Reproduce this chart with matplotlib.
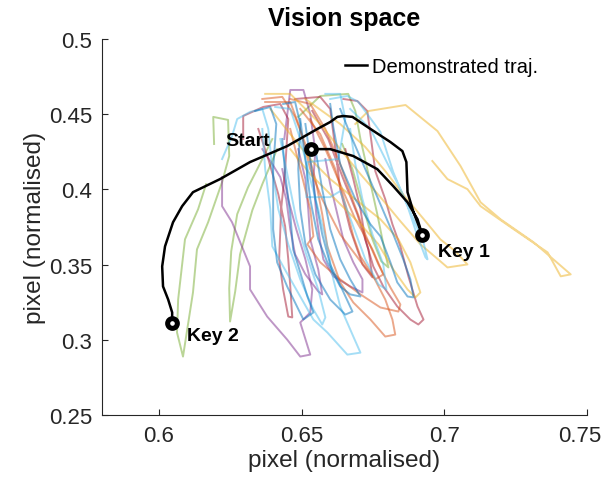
import numpy as np
import matplotlib
matplotlib.use("Agg")
import matplotlib.pyplot as plt
import matplotlib.transforms as mtransforms

plt.rcParams['font.family'] = ['Liberation Sans', 'DejaVu Sans']

# demonstrated trajectory: start -> key 1 -> key 2
demo_x = [0.6534, 0.6600, 0.6681, 0.6765, 0.6821, 0.6871, 0.6906, 0.6923,
          0.6892, 0.6871, 0.6867, 0.6853, 0.6811, 0.6741, 0.6678, 0.6646,
          0.6625, 0.6600, 0.6555, 0.6449, 0.6319, 0.6214, 0.6119, 0.6081,
          0.6049, 0.6021, 0.6011, 0.6014, 0.6032, 0.6046, 0.6046]
demo_y = [0.4267, 0.4267, 0.4221, 0.4134, 0.4021, 0.3914, 0.3801, 0.3695,
          0.3848, 0.3981, 0.4181, 0.4254, 0.4314, 0.4401, 0.4481, 0.4487,
          0.4481, 0.4447, 0.4401, 0.4287, 0.4181, 0.4068, 0.3981, 0.3888,
          0.3781, 0.3621, 0.3488, 0.3355, 0.3268, 0.3182, 0.3109]

key_names = ['Start', 'Key 1', 'Key 2']
key_x = [0.6534, 0.6923, 0.6046]
key_y = [0.4267, 0.3695, 0.3109]

# reproduced trajectories (x list, y list, colour index)
trajs = [
    ([0.6193, 0.6190, 0.6242, 0.6246, 0.6221, 0.6172, 0.6133, 0.6119, 0.6084, 0.6063, 0.6067, 0.6091, 0.6137, 0.6165],
     [0.4301, 0.4481, 0.4461, 0.4221, 0.4048, 0.3781, 0.3601, 0.3315, 0.2889, 0.3049, 0.3268, 0.3668, 0.3868, 0.4034], 4),
    ([0.6397, 0.6348, 0.6312, 0.6274, 0.6253, 0.6246, 0.6249, 0.6267, 0.6284, 0.6327, 0.6362, 0.6414],
     [0.4334, 0.4148, 0.4014, 0.3835, 0.3588, 0.3342, 0.3122, 0.3322, 0.3568, 0.3861, 0.4034, 0.4267], 4),
    ([0.6488, 0.6565, 0.6663, 0.6688, 0.6706, 0.6734, 0.6765, 0.6790, 0.6804, 0.6779, 0.6748, 0.6713, 0.6678, 0.6642],
     [0.4481, 0.4620, 0.4634, 0.4520, 0.4334, 0.4101, 0.3835, 0.3601, 0.3481, 0.3522, 0.3668, 0.3901, 0.4134, 0.4301], 4),
    ([0.6221, 0.6221, 0.6256, 0.6319, 0.6319, 0.6379, 0.6449, 0.6495, 0.6530, 0.6495, 0.6530, 0.6537, 0.6513, 0.6481, 0.6453, 0.6432],
     [0.4081, 0.3888, 0.3781, 0.3488, 0.3335, 0.3155, 0.3002, 0.2889, 0.2902, 0.3115, 0.3182, 0.3335, 0.3535, 0.3735, 0.3934, 0.4134], 3),
    ([0.6439, 0.6460, 0.6506, 0.6530, 0.6548, 0.6541, 0.6551, 0.6565, 0.6576, 0.6611, 0.6670, 0.6713, 0.6713, 0.6681, 0.6646, 0.6625, 0.6600, 0.6583],
     [0.4334, 0.4660, 0.4660, 0.4500, 0.4254, 0.4068, 0.3835, 0.3648, 0.3535, 0.3422, 0.3355, 0.3315, 0.3402, 0.3515, 0.3668, 0.3835, 0.4034, 0.4201], 3),
    ([0.6362, 0.6397, 0.6425, 0.6446, 0.6460, 0.6477, 0.6513, 0.6558, 0.6572, 0.6558, 0.6530, 0.6523, 0.6513, 0.6488],
     [0.4267, 0.4168, 0.4081, 0.3934, 0.3735, 0.3568, 0.3435, 0.3322, 0.3302, 0.3468, 0.3668, 0.3868, 0.4068, 0.4267], 3),
    ([0.6295, 0.6295, 0.6365, 0.6425, 0.6453, 0.6442, 0.6428, 0.6421, 0.6435, 0.6453, 0.6467, 0.6460, 0.6453, 0.6442, 0.6418, 0.6383, 0.6348],
     [0.4334, 0.4487, 0.4547, 0.4567, 0.4467, 0.4134, 0.3868, 0.3535, 0.3335, 0.3155, 0.3149, 0.3355, 0.3535, 0.3755, 0.3968, 0.4201, 0.4401], 6),
    ([0.6646, 0.6695, 0.6730, 0.6741, 0.6758, 0.6793, 0.6818, 0.6846, 0.6874, 0.6906, 0.6927, 0.6909, 0.6881, 0.6835, 0.6786, 0.6751, 0.6723, 0.6706, 0.6681, 0.6653],
     [0.4600, 0.4587, 0.4520, 0.4367, 0.4121, 0.3934, 0.3768, 0.3621, 0.3422, 0.3222, 0.3135, 0.3102, 0.3135, 0.3222, 0.3355, 0.3488, 0.3668, 0.3868, 0.4068, 0.4267], 6),
    ([0.6477, 0.6565, 0.6600, 0.6618, 0.6635, 0.6670, 0.6713, 0.6748, 0.6734, 0.6695, 0.6646, 0.6593, 0.6537],
     [0.4600, 0.4614, 0.4534, 0.4267, 0.4001, 0.3735, 0.3501, 0.3415, 0.3601, 0.3835, 0.4068, 0.4334, 0.4521], 6),
    ([0.6362, 0.6432, 0.6477, 0.6513, 0.6548, 0.6572, 0.6590, 0.6635, 0.6681, 0.6741, 0.6793, 0.6828, 0.6818, 0.6793, 0.6751, 0.6706, 0.6681, 0.6653, 0.6618, 0.6565, 0.6495],
     [0.4600, 0.4614, 0.4481, 0.4301, 0.4068, 0.3835, 0.3621, 0.3382, 0.3248, 0.3135, 0.3022, 0.3035, 0.3135, 0.3268, 0.3422, 0.3555, 0.3688, 0.3901, 0.4134, 0.4367, 0.4534], 1),
    ([0.6460, 0.6495, 0.6530, 0.6541, 0.6520, 0.6565, 0.6635, 0.6706, 0.6776, 0.6839, 0.6846, 0.6811, 0.6769, 0.6723, 0.6678, 0.6635, 0.6583, 0.6530, 0.6460],
     [0.4401, 0.4134, 0.3868, 0.3688, 0.3635, 0.3515, 0.3402, 0.3302, 0.3215, 0.3188, 0.3235, 0.3348, 0.3501, 0.3701, 0.3934, 0.4168, 0.4401, 0.4567, 0.4600], 1),
    ([0.6372, 0.6460, 0.6495, 0.6530, 0.6572, 0.6635, 0.6706, 0.6758, 0.6786, 0.6748, 0.6688, 0.6635, 0.6583, 0.6530],
     [0.4580, 0.4580, 0.4401, 0.4134, 0.3934, 0.3701, 0.3522, 0.3402, 0.3435, 0.3601, 0.3801, 0.4034, 0.4267, 0.4467], 1),
    ([0.6688, 0.6734, 0.6864, 0.6976, 0.7057, 0.7127, 0.7197, 0.7313, 0.7443, 0.7408, 0.7362, 0.7243, 0.7127, 0.7081, 0.7011, 0.6958],
     [0.4434, 0.4520, 0.4560, 0.4387, 0.4154, 0.3914, 0.3801, 0.3648, 0.3435, 0.3422, 0.3581, 0.3735, 0.3888, 0.4001, 0.4068, 0.4188], 2),
    ([0.6372, 0.6460, 0.6513, 0.6565, 0.6635, 0.6706, 0.6776, 0.6846, 0.6916, 0.6986, 0.7011, 0.7081, 0.7039, 0.6986, 0.6934, 0.6863, 0.6793, 0.6723, 0.6635, 0.6513],
     [0.4634, 0.4634, 0.4534, 0.4434, 0.4267, 0.4101, 0.3948, 0.3788, 0.3635, 0.3522, 0.3481, 0.3501, 0.3588, 0.3668, 0.3788, 0.3948, 0.4121, 0.4281, 0.4434, 0.4600], 2),
    ([0.6390, 0.6460, 0.6530, 0.6600, 0.6688, 0.6776, 0.6839, 0.6881, 0.6916, 0.6899, 0.6871, 0.6821, 0.6769, 0.6706, 0.6618, 0.6530, 0.6460],
     [0.4534, 0.4367, 0.4201, 0.4068, 0.3934, 0.3801, 0.3668, 0.3515, 0.3315, 0.3282, 0.3335, 0.3468, 0.3635, 0.3768, 0.3934, 0.4101, 0.4267], 2),
    ([0.6362, 0.6372, 0.6390, 0.6397, 0.6435, 0.6495, 0.6541, 0.6590, 0.6660, 0.6706, 0.6681, 0.6635, 0.6611, 0.6590, 0.6558, 0.6530, 0.6495, 0.6460, 0.6407],
     [0.4401, 0.4134, 0.3868, 0.3621, 0.3488, 0.3288, 0.3135, 0.3049, 0.2902, 0.2915, 0.3022, 0.3222, 0.3402, 0.3621, 0.3868, 0.4068, 0.4334, 0.4534, 0.4547], 5),
    ([0.6600, 0.6660, 0.6699, 0.6776, 0.6821, 0.6871, 0.6906, 0.6934, 0.6941, 0.6927, 0.6892, 0.6846, 0.6793, 0.6741, 0.6670],
     [0.4600, 0.4620, 0.4580, 0.4381, 0.4114, 0.3888, 0.3688, 0.3548, 0.3535, 0.3648, 0.3801, 0.4001, 0.4201, 0.4401, 0.4534], 5),
    ([0.6221, 0.6256, 0.6274, 0.6319, 0.6362, 0.6383, 0.6397, 0.6418, 0.6453, 0.6495, 0.6541, 0.6572, 0.6583, 0.6558, 0.6516, 0.6481, 0.6453, 0.6425],
     [0.4201, 0.4354, 0.4467, 0.4514, 0.4534, 0.4401, 0.4134, 0.3868, 0.3635, 0.3402, 0.3202, 0.3102, 0.3149, 0.3335, 0.3568, 0.3801, 0.4068, 0.4334], 5),
    ([0.6583, 0.6635, 0.6653, 0.6635, 0.6628, 0.6520, 0.6516, 0.6600, 0.6635, 0.6678, 0.6723, 0.6769, 0.6797, 0.6786, 0.6748, 0.6713, 0.6688, 0.6670],
     [0.4634, 0.4634, 0.4467, 0.4267, 0.4201, 0.4181, 0.3948, 0.3948, 0.3988, 0.3768, 0.3535, 0.3368, 0.3335, 0.3501, 0.3701, 0.3934, 0.4168, 0.4401], 5),
    ([0.6337, 0.6390, 0.6411, 0.6400, 0.6400, 0.6414, 0.6449, 0.6506, 0.6541, 0.6520, 0.6495, 0.6470, 0.6460, 0.6442, 0.6432],
     [0.4520, 0.4547, 0.4434, 0.4134, 0.3735, 0.3515, 0.3355, 0.3135, 0.3182, 0.3288, 0.3448, 0.3601, 0.3835, 0.4101, 0.4334], 0),
    ([0.6600, 0.6611, 0.6635, 0.6688, 0.6741, 0.6776, 0.6811, 0.6835, 0.6871, 0.6892, 0.6881, 0.6856, 0.6821, 0.6776, 0.6723, 0.6670, 0.6635],
     [0.4567, 0.4414, 0.4168, 0.3934, 0.3768, 0.3688, 0.3515, 0.3382, 0.3288, 0.3282, 0.3402, 0.3535, 0.3701, 0.3901, 0.4134, 0.4367, 0.4534], 0),
    ([0.6495, 0.6513, 0.6530, 0.6558, 0.6590, 0.6635, 0.6670, 0.6706, 0.6670, 0.6635, 0.6600, 0.6572, 0.6548],
     [0.4467, 0.4201, 0.3934, 0.3668, 0.3515, 0.3355, 0.3302, 0.3288, 0.3402, 0.3535, 0.3735, 0.4001, 0.4267], 0),
    ([0.6435, 0.6477, 0.6495, 0.6488, 0.6495, 0.6513, 0.6548, 0.6600, 0.6653, 0.6678, 0.6642, 0.6600, 0.6572, 0.6548, 0.6530, 0.6513],
     [0.4567, 0.4580, 0.4434, 0.4134, 0.3868, 0.3635, 0.3435, 0.3268, 0.3168, 0.3188, 0.3335, 0.3501, 0.3701, 0.3934, 0.4201, 0.4434], 0),
]

# matlab default line colours
colors = [(0, 0.447, 0.741), (0.85, 0.325, 0.098), (0.929, 0.694, 0.125),
          (0.494, 0.184, 0.556), (0.466, 0.674, 0.188), (0.301, 0.745, 0.933),
          (0.635, 0.078, 0.184)]

xticks = [0.6, 0.65, 0.7, 0.75]
xticklabels = ['0.6', '0.65', '0.7', '0.75']
yticks = [0.25, 0.3, 0.35, 0.4, 0.45, 0.5]
yticklabels = ['0.25', '0.3', '0.35', '0.4', '0.45', '0.5']

fig = plt.figure(figsize=(6.07, 4.85), dpi=100)
ax = fig.add_axes([0.168, 0.142, 0.799, 0.776])

for tx, ty, ci in trajs:
    ax.plot(tx, ty, color=colors[ci], alpha=0.5, lw=1.4)

ax.plot(demo_x, demo_y, color='k', lw=1.8, label='Demonstrated traj.')
ax.plot(key_x, key_y, 'o', ms=7, mew=3.6, mfc='w', mec='k', zorder=5)

offsets = [(-46, 6), (11, -12), (11, -9)]
aligns = ['center', 'left', 'left']
for name, kx, ky, off, ha in zip(key_names, key_x, key_y, offsets, aligns):
    ax.annotate(name, (kx, ky), xytext=off, textcoords='offset points',
                ha=ha, va='center', fontsize=14, fontweight='bold')

ax.set_xlim(0.58, 0.75)
ax.set_ylim(0.25, 0.5)
ax.set_xticks(xticks)
ax.set_xticklabels(xticklabels)
ax.set_yticks(yticks)
ax.set_yticklabels(yticklabels)

grey = (0.15, 0.15, 0.15)
for s in ['top', 'right']:
    ax.spines[s].set_visible(False)
for s in ['left', 'bottom']:
    ax.spines[s].set_color(grey)
    ax.spines[s].set_linewidth(0.8)
ax.tick_params(direction='in', length=4, width=0.8, color=grey,
               labelcolor=grey, labelsize=16, pad=7)

# last x label nudged left so it stays inside the figure
lab = ax.get_xticklabels()[-1]
lab.set_transform(lab.get_transform() +
                  mtransforms.ScaledTranslation(-0.07, 0, fig.dpi_scale_trans))

ax.set_xlabel('pixel (normalised)', fontsize=17.6, color=grey, labelpad=2)
ax.set_ylabel('pixel (normalised)', fontsize=17.6, color=grey, labelpad=2)
ax.set_title('Vision space', fontsize=18, fontweight='bold', pad=10)

ax.legend(loc='center left', bbox_to_anchor=(0.501, 0.926), frameon=False,
          fontsize=14.5, handlelength=1.1, handletextpad=0.25,
          borderpad=0, borderaxespad=0)

fig.savefig('out.png', dpi=100)
